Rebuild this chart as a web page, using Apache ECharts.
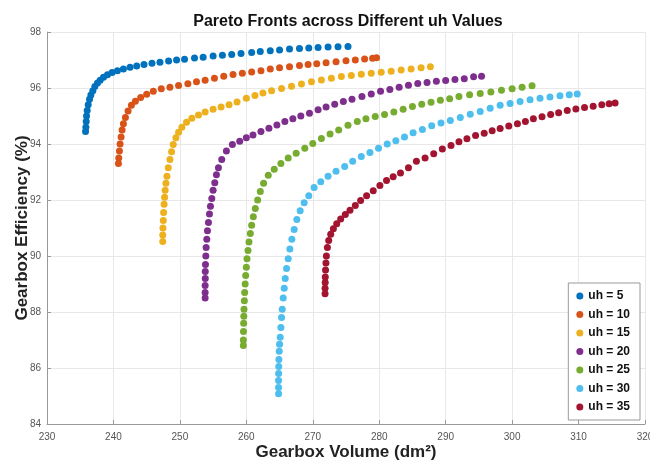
<!DOCTYPE html>
<html>
<head>
<meta charset="utf-8">
<style>
  html, body { margin: 0; padding: 0; background: #fff; }
  #chart { width: 650px; height: 462px; }
</style>
<script src="https://cdn.jsdelivr.net/npm/echarts@6/dist/echarts.min.js"></script>
</head>
<body>
<div id="chart"></div>
<script>
// Pareto front samples: [gearbox volume (dm²), gearbox efficiency (%)]
const seriesNames = ['uh = 5', 'uh = 10', 'uh = 15', 'uh = 20', 'uh = 25', 'uh = 30', 'uh = 35'];
const seriesColors = ['#0072BD', '#D95319', '#EDB120', '#7E2F8E', '#77AC30', '#4DBEEE', '#A2142F'];

const uh5 = [[235.8,94.45],[235.85,94.6],[235.9,94.8],[235.95,95.0],[236.05,95.2],[236.2,95.4],[236.4,95.6],[236.6,95.75],[236.9,95.9],[237.2,96.05],[237.6,96.18],[238.0,96.28],[238.5,96.38],[239.1,96.47],[239.8,96.55],[240.6,96.62],[241.5,96.68],[242.5,96.74],[243.5,96.79],[244.6,96.84],[245.8,96.88],[247.0,96.92],[248.3,96.96],[249.5,97.0],[250.7,97.03],[252.2,97.07],[253.5,97.1],[255.0,97.14],[256.4,97.17],[257.8,97.2],[259.2,97.23],[260.8,97.27],[262.1,97.3],[263.6,97.33],[265.0,97.36],[266.5,97.39],[268.0,97.41],[269.4,97.43],[270.8,97.45],[272.3,97.46],[273.8,97.47],[275.3,97.48]];
const uh10 = [[240.75,93.3],[240.8,93.5],[240.9,93.75],[241.0,94.0],[241.15,94.25],[241.3,94.5],[241.5,94.72],[241.8,94.95],[242.2,95.18],[242.7,95.38],[243.3,95.53],[244.1,95.66],[245.0,95.78],[246.0,95.88],[247.2,95.97],[248.5,96.03],[249.8,96.09],[251.2,96.15],[252.5,96.22],[253.8,96.28],[255.2,96.35],[256.6,96.42],[258.0,96.48],[259.4,96.53],[260.8,96.57],[262.2,96.62],[263.6,96.68],[265.0,96.72],[266.5,96.76],[268.0,96.8],[269.3,96.84],[270.6,96.87],[272.0,96.9],[273.5,96.94],[275.0,96.97],[276.4,97.0],[277.8,97.04],[279.0,97.06],[279.6,97.08]];
const uh15 = [[247.42,90.52],[247.42,90.75],[247.45,91.0],[247.5,91.27],[247.55,91.55],[247.62,91.85],[247.7,92.1],[247.78,92.35],[247.9,92.6],[248.05,92.85],[248.25,93.15],[248.5,93.45],[248.75,93.72],[249.0,93.98],[249.4,94.22],[249.8,94.42],[250.3,94.6],[251.0,94.78],[251.8,94.92],[252.8,95.04],[253.8,95.14],[255.0,95.24],[256.2,95.32],[257.4,95.4],[258.6,95.5],[260.0,95.63],[261.3,95.73],[262.5,95.82],[263.8,95.9],[265.3,95.98],[266.8,96.06],[268.3,96.14],[269.8,96.22],[271.3,96.29],[272.8,96.35],[274.3,96.41],[275.8,96.45],[277.3,96.49],[278.8,96.53],[280.3,96.56],[281.8,96.6],[283.3,96.64],[284.8,96.68],[286.3,96.72],[287.7,96.76]];
const uh20 = [[253.8,88.5],[253.8,88.7],[253.8,88.95],[253.82,89.2],[253.82,89.45],[253.85,89.7],[253.9,90.0],[253.95,90.3],[254.05,90.6],[254.15,90.9],[254.3,91.2],[254.45,91.5],[254.6,91.78],[254.8,92.05],[255.0,92.35],[255.25,92.62],[255.5,92.9],[255.8,93.15],[256.3,93.45],[257.0,93.75],[257.9,93.98],[259.0,94.1],[260.0,94.22],[261.0,94.32],[262.2,94.45],[263.4,94.56],[264.6,94.68],[265.8,94.8],[267.0,94.9],[268.2,95.0],[269.5,95.1],[270.8,95.22],[272.0,95.32],[273.3,95.42],[274.6,95.52],[275.9,95.6],[277.4,95.7],[278.8,95.79],[280.2,95.88],[281.6,95.95],[283.0,96.03],[284.4,96.1],[285.8,96.16],[287.2,96.2],[288.6,96.24],[290.0,96.27],[291.4,96.3],[292.8,96.33],[294.2,96.4],[295.4,96.42]];
const uh25 = [[259.55,86.8],[259.55,87.0],[259.57,87.3],[259.6,87.6],[259.62,87.85],[259.65,88.1],[259.7,88.4],[259.75,88.7],[259.82,89.0],[259.9,89.3],[260.0,89.6],[260.1,89.9],[260.25,90.2],[260.4,90.5],[260.6,90.8],[260.8,91.1],[261.05,91.4],[261.35,91.7],[261.7,92.0],[262.1,92.3],[262.6,92.6],[263.3,92.88],[264.2,93.1],[265.2,93.3],[266.3,93.5],[267.5,93.67],[268.8,93.85],[270.0,94.02],[271.3,94.2],[272.6,94.36],[273.9,94.5],[275.3,94.67],[276.7,94.8],[278.0,94.9],[279.4,94.98],[280.8,95.05],[282.2,95.14],[283.6,95.24],[285.0,95.34],[286.4,95.42],[287.8,95.49],[289.2,95.56],[290.6,95.62],[292.0,95.7],[293.6,95.76],[295.2,95.8],[296.8,95.86],[298.4,95.92],[300.0,95.97],[301.5,96.03],[303.0,96.08]];
const uh30 = [[264.85,85.08],[264.85,85.3],[264.85,85.55],[264.86,85.8],[264.88,86.05],[264.9,86.3],[264.95,86.6],[265.0,86.85],[265.1,87.1],[265.2,87.45],[265.3,87.8],[265.4,88.1],[265.55,88.5],[265.7,88.85],[265.85,89.2],[266.05,89.55],[266.3,89.9],[266.55,90.25],[266.85,90.6],[267.2,90.95],[267.6,91.3],[268.1,91.62],[268.7,91.9],[269.4,92.15],[270.2,92.45],[271.2,92.65],[272.3,92.85],[273.5,93.03],[274.8,93.2],[276.0,93.38],[277.3,93.55],[278.6,93.7],[279.9,93.85],[281.2,94.0],[282.5,94.12],[283.8,94.25],[285.1,94.4],[286.5,94.52],[287.9,94.65],[289.3,94.75],[290.7,94.84],[292.2,94.95],[293.7,95.06],[295.2,95.16],[296.7,95.28],[298.2,95.38],[299.7,95.45],[301.2,95.52],[302.7,95.58],[304.2,95.63],[305.7,95.68],[307.2,95.72],[308.6,95.76],[309.8,95.79]];
const uh35 = [[271.85,88.65],[271.85,88.85],[271.87,89.05],[271.88,89.25],[271.92,89.5],[271.98,89.75],[272.05,90.0],[272.2,90.3],[272.4,90.55],[272.7,90.78],[273.1,90.97],[273.6,91.15],[274.2,91.32],[274.9,91.48],[275.6,91.63],[276.4,91.8],[277.2,91.98],[278.1,92.15],[279.1,92.33],[280.1,92.52],[281.1,92.7],[282.1,92.83],[283.2,92.96],[284.4,93.15],[285.6,93.38],[286.9,93.5],[288.2,93.65],[289.5,93.82],[290.8,93.95],[292.0,94.08],[293.2,94.19],[294.5,94.3],[295.8,94.38],[297.0,94.47],[298.2,94.55],[299.5,94.64],[300.8,94.72],[302.0,94.8],[303.2,94.9],[304.5,94.97],[305.8,95.05],[307.0,95.12],[308.3,95.2],[309.6,95.25],[310.9,95.3],[312.2,95.35],[313.5,95.4],[314.6,95.44],[315.5,95.46]];

const seriesData = [uh5, uh10, uh15, uh20, uh25, uh30, uh35];

const FONT = '"Liberation Sans", Arial, sans-serif';

const chart = echarts.init(document.getElementById('chart'), null, { renderer: 'canvas' });

chart.setOption({
  backgroundColor: '#ffffff',
  animation: false,
  title: {
    text: 'Pareto Fronts across Different uh Values',
    left: 343,
    top: 9,
    textAlign: 'center',
    textStyle: { fontFamily: FONT, fontSize: 16, fontWeight: 'bold', color: '#111' }
  },
  grid: { left: 47, right: 5, top: 32, bottom: 38, containLabel: false, outerBoundsMode: 'none' },
  legend: {
    orient: 'vertical',
    right: 10,
    top: 283,
    data: seriesNames,
    icon: 'circle',
    itemWidth: 7,
    itemHeight: 7,
    itemGap: 4.5,
    padding: [6, 10, 6, 8],
    backgroundColor: '#fff',
    borderColor: '#999',
    borderWidth: 1,
    textStyle: { fontFamily: FONT, fontSize: 12, fontWeight: 'bold', color: '#111', lineHeight: 14 }
  },
  xAxis: {
    type: 'value',
    min: 230, max: 320, interval: 10,
    name: 'Gearbox Volume (dm²)',
    nameLocation: 'middle',
    nameGap: 20,
    nameMoveOverlap: false,
    nameTextStyle: { fontFamily: FONT, fontSize: 17, fontWeight: 'bold', color: '#222' },
    axisLine: { show: true, lineStyle: { color: '#999', width: 1 } },
    axisTick: { show: true, inside: true, length: 4, lineStyle: { color: '#999' } },
    axisLabel: { fontFamily: FONT, fontSize: 10, color: '#555', margin: 8 },
    splitLine: { show: true, lineStyle: { color: '#e8e8e8', width: 1 } }
  },
  yAxis: {
    type: 'value',
    min: 84, max: 98, interval: 2,
    name: 'Gearbox Efficiency (%)',
    nameLocation: 'middle',
    nameGap: 16,
    nameMoveOverlap: false,
    nameTextStyle: { fontFamily: FONT, fontSize: 17, fontWeight: 'bold', color: '#222' },
    axisLine: { show: true, lineStyle: { color: '#999', width: 1 } },
    axisTick: { show: true, inside: true, length: 4, lineStyle: { color: '#999' } },
    axisLabel: { fontFamily: FONT, fontSize: 10, color: '#555', margin: 6 },
    splitLine: { show: true, lineStyle: { color: '#e8e8e8', width: 1 } }
  },
  series: seriesData.map((data, i) => ({
    name: seriesNames[i],
    type: 'scatter',
    data: data,
    symbol: 'circle',
    symbolSize: 7,
    itemStyle: { color: seriesColors[i], opacity: 1 }
  }))
});
</script>
</body>
</html>
